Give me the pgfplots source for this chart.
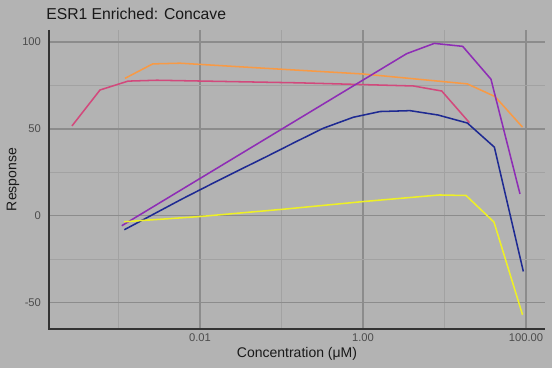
\documentclass[border=0pt]{standalone}
\usepackage{pgfplots}
\pgfplotsset{compat=1.18}
\usepackage{fontspec}
\setmainfont{Liberation Sans}
\definecolor{bg}{HTML}{B3B3B3}
\definecolor{majgrid}{HTML}{8C8C8C}
\definecolor{mingrid}{HTML}{A2A2A2}
\definecolor{cpink}{HTML}{D2497C}
\definecolor{corange}{HTML}{F89A45}
\definecolor{cpurple}{HTML}{8E2DB5}
\definecolor{cblue}{HTML}{1E2A92}
\definecolor{cyellow}{HTML}{EEF026}
\begin{document}
\begin{tikzpicture}[x=0.75pt,y=0.75pt]
\fill[white] (0,0) rectangle (556,372);
\fill[bg] (0,4) rectangle (552,372);
\begin{axis}[
  at={(36.75pt,32.25pt)}, anchor=south west,
  width=372pt, height=224.25pt, scale only axis,
  xmode=log, xmin=1.403e-4, xmax=171,
  ymin=-65.1, ymax=106.9,
  axis line style={draw=none},
  tick style={draw=none},
  xtick={0.01,1,100}, xticklabels={0.01,1.00,100.00},
  minor xtick={0.001,0.1,10},
  ytick={-50,0,50,100}, yticklabels={-50,0,50,100},
  minor ytick={-25,25,75},
  grid=both,
  major grid style={draw=majgrid, line width=0.95pt},
  minor grid style={draw=mingrid, line width=0.7pt},
  xticklabel style={font=\fontsize{8.4}{10}\selectfont, text=black!70},
  yticklabel style={font=\fontsize{8.4}{10}\selectfont, text=black!70, xshift=-2.5pt},
  every axis plot/.append style={line width=1.15pt, mark=none},
  clip=false,
]
\addplot[cpink] coordinates {
 (0.0002685,51.7) (0.000593,72.4) (0.001309,77.5) (0.002965,78.0)
 (0.166,76.5) (4.15,74.7) (9.25,71.8) (20.18,53.6)};
\addplot[corange] coordinates {
 (0.001202,79.1) (0.00263,87.4) (0.00569,87.8) (0.0569,85.0) (1,81.6)
 (19.05,75.9) (41.7,68.6) (90.6,51.0)};
\addplot[cpurple] coordinates {
 (0.001096,-5.7) (3.436,93.3) (7.5,99.2) (16.7,97.5) (37.15,78.6) (84.3,12.6)};
\addplot[cblue] coordinates {
 (0.001178,-8.0) (0.00597,9.6) (0.0134,18.0) (0.0299,26.2) (0.067,34.3)
 (0.15,42.6) (0.326,50.4) (0.760,56.7) (1.618,60.0) (3.776,60.5)
 (8.32,58.0) (19.05,53.4) (40.9,39.5) (92.7,-32.0)};
\addplot[cyellow] coordinates {
 (0.001175,-3.4) (0.01,-0.4) (0.117,4.0) (1,8.2) (8.63,12.0)
 (18.37,11.7) (40.45,-3.6) (90.6,-56.9)};
\draw[black!80, line width=1.15pt] (rel axis cs:0,1) -- (rel axis cs:0,0) -- (rel axis cs:1,0);
\end{axis}
\node[anchor=west, font=\fontsize{11.8}{14}\selectfont, text=black!90, inner sep=0pt] at (46,358) {ESR1 Enriched: Concave};
\node[font=\fontsize{10.5}{12}\selectfont, text=black!90] at (297,17.7) {Concentration (μM)};
\node[font=\fontsize{10.5}{12}\selectfont, text=black!90, rotate=90] at (13,192.5) {Response};
\end{tikzpicture}
\end{document}
